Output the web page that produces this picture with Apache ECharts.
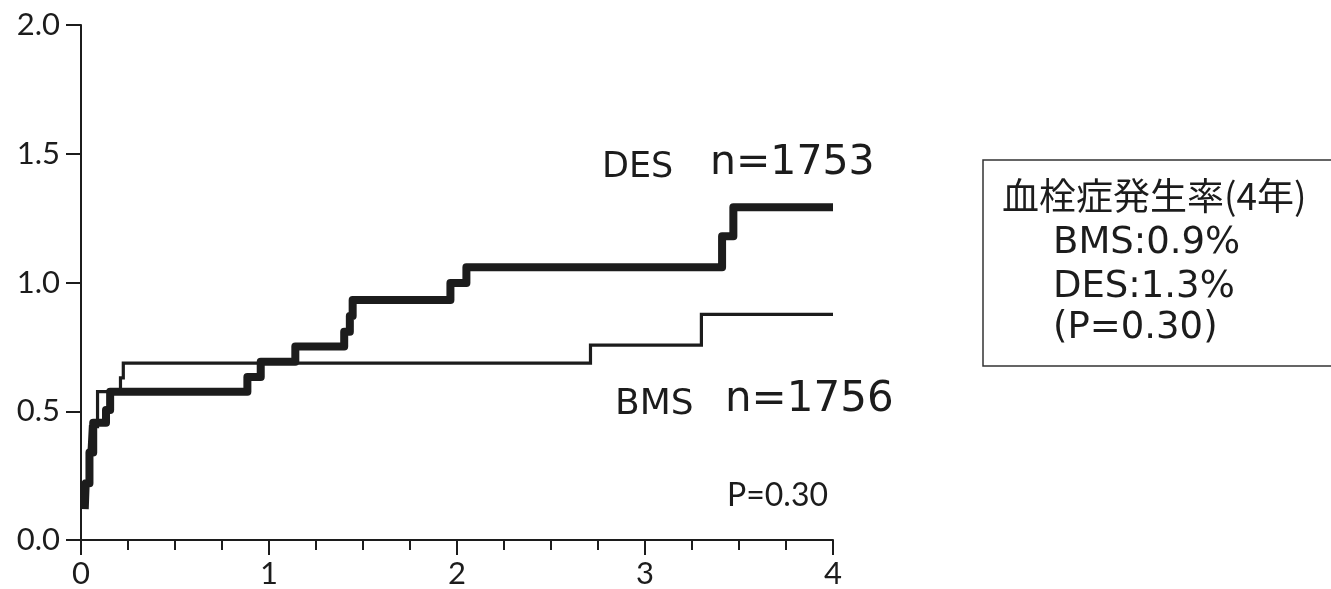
<!DOCTYPE html>
<html>
<head>
<meta charset="utf-8">
<script src="https://cdn.jsdelivr.net/npm/echarts@6/dist/echarts.min.js"></script>
<style>
html,body{margin:0;padding:0;background:#fff;}
#chart{width:1331px;height:589px;}
</style>
</head>
<body>
<div id="chart"></div>
<script>
// Cumulative incidence (%) vs years — step data
const desTime = [0.02, 0.025, 0.045, 0.065, 0.133, 0.155, 0.885, 0.956, 1.14, 1.40, 1.43, 1.445, 1.965, 2.05, 3.41, 3.47, 4.0];
const desRate = [0.12, 0.22, 0.34, 0.455, 0.505, 0.576, 0.633, 0.692, 0.751, 0.809, 0.87, 0.932, 0.998, 1.059, 1.18, 1.292, 1.292];
const bmsTime = [0.03, 0.04, 0.05, 0.088, 0.21, 0.225, 2.71, 3.30, 4.0];
const bmsRate = [0.15, 0.30, 0.44, 0.576, 0.63, 0.687, 0.757, 0.876, 0.876];
const xTickValues = [0, 1, 2, 3, 4];
const yTickValues = [0.0, 0.5, 1.0, 1.5, 2.0];
const desLabel = 'DES', desN = 'n=1753';
const bmsLabel = 'BMS', bmsN = 'n=1756';
const pText = 'P=0.30';
const boxLines = ['血栓症発生率(4年)', 'BMS:0.9%', 'DES:1.3%', '(P=0.30)'];

const chart = echarts.init(document.getElementById('chart'), null, {renderer: 'canvas'});
const ink = '#1c1c1c';
const latin = 'Lato, "DejaVu Sans", sans-serif';
const wide = '"DejaVu Sans", sans-serif';
const jp = '"Noto Sans CJK JP", "Noto Sans", sans-serif';

function txt(text, x, y, font) {
  return {type: 'text', x: x, y: y,
    style: {text: text, font: font, fill: ink, align: 'left', verticalAlign: 'middle'}};
}

const option = {
  animation: false,
  backgroundColor: '#fff',
  grid: {left: 81, right: 498, top: 25, bottom: 49, containLabel: false},
  xAxis: {
    type: 'value', min: xTickValues[0], max: xTickValues[xTickValues.length-1], interval: 1,
    axisLine: {show: true, lineStyle: {color: ink, width: 2}},
    axisTick: {show: true, length: 15, lineStyle: {color: ink, width: 2}},
    minorTick: {show: true, splitNumber: 4, length: 10, lineStyle: {color: ink, width: 2}},
    splitLine: {show: false},
    axisLabel: {color: ink, fontSize: 31, fontFamily: latin, margin: 18}
  },
  yAxis: {
    type: 'value', min: yTickValues[0], max: yTickValues[yTickValues.length-1], interval: 0.5,
    axisLine: {show: true, lineStyle: {color: ink, width: 2}},
    axisTick: {show: true, length: 15, lineStyle: {color: ink, width: 2}},
    splitLine: {show: false},
    axisLabel: {color: ink, fontSize: 31, fontFamily: latin, margin: 21,
      formatter: v => v.toFixed(1)}
  },
  series: [
    {
      name: 'BMS', type: 'line', step: 'end', symbol: 'none',
      data: bmsTime.map((t, i) => [t, bmsRate[i]]),
      lineStyle: {color: ink, width: 3.2, join: 'miter', cap: 'butt'},
      z: 3
    },
    {
      name: 'DES', type: 'line', step: 'end', symbol: 'none',
      data: desTime.map((t, i) => [t, desRate[i]]),
      lineStyle: {color: ink, width: 8, join: 'round', cap: 'butt'},
      z: 4
    }
  ],
  graphic: [
    txt(desLabel, 602, 168, '35px ' + wide),
    txt(desN, 710, 163, '41px ' + wide),
    txt(bmsLabel, 615, 405, '36px ' + wide),
    txt(bmsN, 725, 400, '42px ' + wide),
    txt(pText, 727, 496, '32px ' + latin),
    {type: 'rect', shape: {x: 983, y: 160, width: 380, height: 206}, style: {fill: 'none', stroke: '#333', lineWidth: 1.5}},
    txt(boxLines[0], 1002, 196, '37px ' + jp),
    txt(boxLines[1], 1053, 243, '37px ' + wide),
    txt(boxLines[2], 1053, 287, '37px ' + wide),
    txt(boxLines[3], 1053, 328, '37px ' + wide)
  ]
};
chart.setOption(option);
</script>
</body>
</html>
